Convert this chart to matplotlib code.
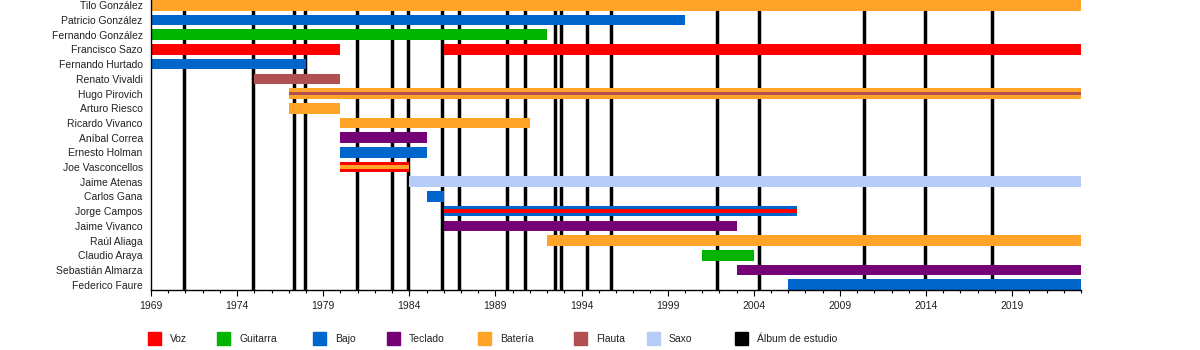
import matplotlib
matplotlib.use("Agg")
import matplotlib.pyplot as plt
from matplotlib.patches import Rectangle
from matplotlib.ticker import MultipleLocator, FixedLocator

plt.rcParams['font.family'] = ['Liberation Sans', 'DejaVu Sans']

members = ["Tilo González", "Patricio González", "Fernando González", "Francisco Sazo",
           "Fernando Hurtado", "Renato Vivaldi", "Hugo Pirovich", "Arturo Riesco",
           "Ricardo Vivanco", "Aníbal Correa", "Ernesto Holman", "Joe Vasconcellos",
           "Jaime Atenas", "Carlos Gana", "Jorge Campos", "Jaime Vivanco",
           "Raúl Aliaga", "Claudio Araya", "Sebastián Almarza", "Federico Faure"]

roles = ["Voz", "Guitarra", "Bajo", "Teclado", "Batería", "Flauta", "Saxo", "Álbum de estudio"]
role_colors = {"Voz": "#ff0000", "Guitarra": "#00b400", "Bajo": "#0066cc",
               "Teclado": "#760076", "Batería": "#ffa329", "Flauta": "#b05050",
               "Saxo": "#b8ccf8", "Álbum de estudio": "#000000"}

# main bars
bar_member = ["Tilo González", "Patricio González", "Fernando González", "Francisco Sazo",
              "Francisco Sazo", "Fernando Hurtado", "Renato Vivaldi", "Hugo Pirovich",
              "Arturo Riesco", "Ricardo Vivanco", "Aníbal Correa", "Ernesto Holman",
              "Joe Vasconcellos", "Jaime Atenas", "Carlos Gana", "Jorge Campos",
              "Jaime Vivanco", "Raúl Aliaga", "Claudio Araya", "Sebastián Almarza",
              "Federico Faure"]
bar_start = [1969, 1969, 1969, 1969, 1986, 1969, 1975, 1977, 1977, 1980, 1980, 1980,
             1980, 1984, 1985, 1986, 1986, 1992, 2001, 2003, 2006]
bar_end = [2023, 2000, 1992, 1980, 2023, 1978, 1980, 2023, 1980, 1991, 1985, 1985,
           1984, 2023, 1986, 2006.5, 2003, 2023, 2004, 2023, 2023]
bar_role = ["Batería", "Bajo", "Guitarra", "Voz", "Voz", "Bajo", "Flauta", "Batería",
            "Batería", "Batería", "Teclado", "Bajo", "Voz", "Saxo", "Bajo", "Bajo",
            "Teclado", "Batería", "Guitarra", "Teclado", "Bajo"]

# secondary thin stripes
stripe_member = ["Hugo Pirovich", "Joe Vasconcellos", "Jorge Campos"]
stripe_start = [1977, 1980, 1986]
stripe_end = [2023, 1984, 2006.5]
stripe_role = ["Flauta", "Batería", "Voz"]

album_years = [1970.92, 1974.94, 1977.3, 1977.96, 1980.94, 1982.97, 1983.94, 1985.92,
               1986.9, 1989.65, 1990.74, 1992.48, 1992.8, 1994.34, 1995.7, 2001.85,
               2004.33, 2010.42, 2013.97, 2017.86]

x_min, x_max = 1969, 2023

fig = plt.figure(figsize=(12, 3.5), dpi=100)
ax = fig.add_axes([151 / 1200, 60 / 350, (1081 - 151) / 1200, 290 / 350])

row = {m: i for i, m in enumerate(members)}
bar_h = 0.72
stripe_h = 0.23

for yr in album_years:
    ax.axvline(yr, color=role_colors["Álbum de estudio"], lw=2.5, zorder=1)

for m, s, e, r in zip(bar_member, bar_start, bar_end, bar_role):
    ax.barh(row[m], e - s, left=s, height=bar_h, color=role_colors[r], zorder=2, linewidth=0)

for m, s, e, r in zip(stripe_member, stripe_start, stripe_end, stripe_role):
    h = 0.27 if r == "Batería" else stripe_h
    ax.barh(row[m], e - s, left=s, height=h, color=role_colors[r], zorder=3, linewidth=0)

ax.set_xlim(x_min, x_max)
ax.set_ylim(len(members) - 1 + bar_h / 2, -bar_h / 2)
ax.set_yticks(range(len(members)))
ax.set_yticklabels(members, fontsize=7.5, color="#222222")
ax.tick_params(axis='y', length=0, pad=6)
ax.xaxis.set_major_locator(FixedLocator(list(range(1969, 2023, 5))))
ax.xaxis.set_minor_locator(MultipleLocator(1))
ax.tick_params(axis='x', which='major', length=4, width=0.8, labelsize=7.5, pad=4,
               labelcolor="#222222")
ax.tick_params(axis='x', which='minor', length=2, width=0.8)
for sp in ["top", "right"]:
    ax.spines[sp].set_visible(False)
ax.spines["left"].set_linewidth(1.0)
ax.spines["bottom"].set_linewidth(1.0)

# legend
sq_x = [148, 217, 313, 387, 478, 574, 647, 735]
for x, r in zip(sq_x, roles):
    fig.patches.append(Rectangle((x / 1200, (350 - 345) / 350), 13 / 1200, 13 / 350,
                                 transform=fig.transFigure, color=role_colors[r]))
    fig.text((x + 22) / 1200, (350 - 339) / 350, r, fontsize=7.5, va='center',
             ha='left', color="#222222")

fig.savefig("out.png", dpi=100)
